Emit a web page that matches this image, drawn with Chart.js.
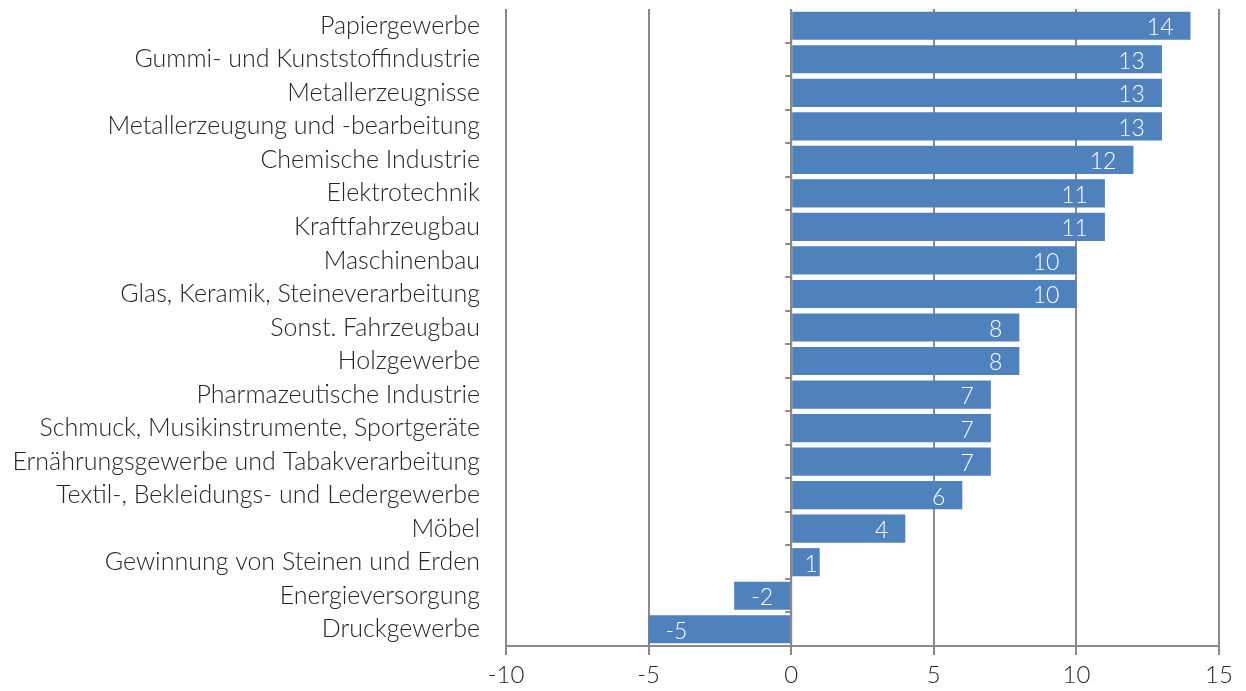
<!DOCTYPE html>
<html lang="de">
<head>
    <meta charset="UTF-8">
    <title>Branchen</title>
    <style>
        html, body { margin: 0; padding: 0; background: #fff; }
        #wrap { width: 1246px; height: 691px; }
    </style>
</head>
<body>
    <div id="wrap"><canvas id="barChart" width="1246" height="691"></canvas></div>

    <script src="https://cdn.jsdelivr.net/npm/chart.js"></script>
    <script>
        // categories and values
        const branchen = [
            'Papiergewerbe',
            'Gummi- und Kunststoffindustrie',
            'Metallerzeugnisse',
            'Metallerzeugung und -bearbeitung',
            'Chemische Industrie',
            'Elektrotechnik',
            'Kraftfahrzeugbau',
            'Maschinenbau',
            'Glas, Keramik, Steineverarbeitung',
            'Sonst. Fahrzeugbau',
            'Holzgewerbe',
            'Pharmazeutische Industrie',
            'Schmuck, Musikinstrumente, Sportgeräte',
            'Ernährungsgewerbe und Tabakverarbeitung',
            'Textil-, Bekleidungs- und Ledergewerbe',
            'Möbel',
            'Gewinnung von Steinen und Erden',
            'Energieversorgung',
            'Druckgewerbe'
        ];
        const werte = [14, 13, 13, 13, 12, 11, 11, 10, 10, 8, 8, 7, 7, 7, 6, 4, 1, -2, -5];
        const xTicks = [-10, -5, 0, 5, 10, 15];

        const FONT = "'Lato', 'Open Sans', sans-serif";

        // white value labels at the inside end of each bar
        const valueLabels = {
            id: 'valueLabels',
            afterDatasetsDraw(chart) {
                const ctx = chart.ctx;
                const meta = chart.getDatasetMeta(0);
                ctx.save();
                ctx.font = '300 23px ' + FONT;
                ctx.fillStyle = '#ffffff';
                ctx.textBaseline = 'middle';
                meta.data.forEach((bar, i) => {
                    const v = werte[i];
                    const len = Math.abs(bar.x - bar.base);
                    const gap = len < 40 ? 2 : 17;
                    if (v >= 0) {
                        ctx.textAlign = 'right';
                        ctx.fillText(String(v), bar.x - gap, bar.y + 2);
                    } else {
                        ctx.textAlign = 'left';
                        ctx.fillText(String(v), bar.x + gap, bar.y + 2);
                    }
                });
                ctx.restore();
            }
        };

        // small tick marks on the zero line between categories
        const zeroTicks = {
            id: 'zeroTicks',
            afterDatasetsDraw(chart) {
                const ctx = chart.ctx;
                const x0 = chart.scales.x.getPixelForValue(0);
                const ys = chart.scales.y;
                const step = (ys.bottom - ys.top) / branchen.length;
                ctx.save();
                ctx.strokeStyle = '#898989';
                ctx.lineWidth = 2;
                ctx.beginPath();
                for (let i = 1; i < branchen.length; i++) {
                    const y = Math.round(ys.top + i * step);
                    ctx.moveTo(x0 - 6, y);
                    ctx.lineTo(x0, y);
                }
                ctx.moveTo(x0, ys.top);
                ctx.lineTo(x0, ys.bottom);
                ctx.stroke();
                ctx.restore();
            }
        };

        new Chart(document.getElementById('barChart'), {
            type: 'bar',
            data: {
                labels: branchen,
                datasets: [{
                    data: werte,
                    backgroundColor: '#4f81bd',
                    borderWidth: 0,
                    barPercentage: 0.84,
                    categoryPercentage: 1.0
                }]
            },
            options: {
                indexAxis: 'y',
                responsive: false,
                animation: false,
                layout: { padding: { top: 9, right: 27, bottom: 0, left: 0 } },
                plugins: {
                    legend: { display: false },
                    tooltip: { enabled: false }
                },
                scales: {
                    x: {
                        min: -10,
                        max: 15,
                        afterBuildTicks(scale) {
                            scale.ticks = xTicks.map(v => ({ value: v }));
                        },
                        grid: {
                            color: '#898989',
                            lineWidth: 2,
                            tickLength: 9,
                            drawTicks: true
                        },
                        border: { display: true, color: '#898989', width: 2 },
                        ticks: {
                            color: '#262626',
                            font: { family: FONT, size: 24, weight: '300' },
                            padding: 6,
                            maxRotation: 0
                        },
                        afterFit(scale) {
                            scale.height = 45;
                            scale.paddingLeft = 0;
                            scale.paddingRight = 0;
                        }
                    },
                    y: {
                        grid: { display: false, drawTicks: false },
                        border: { display: false },
                        ticks: {
                            color: '#262626',
                            font: { family: FONT, size: 25, weight: '300' },
                            padding: 26
                        },
                        afterFit(scale) {
                            scale.width = 506;
                            scale.paddingTop = 0;
                            scale.paddingBottom = 0;
                        }
                    }
                }
            },
            plugins: [valueLabels, zeroTicks]
        });
    </script>
</body>
</html>
